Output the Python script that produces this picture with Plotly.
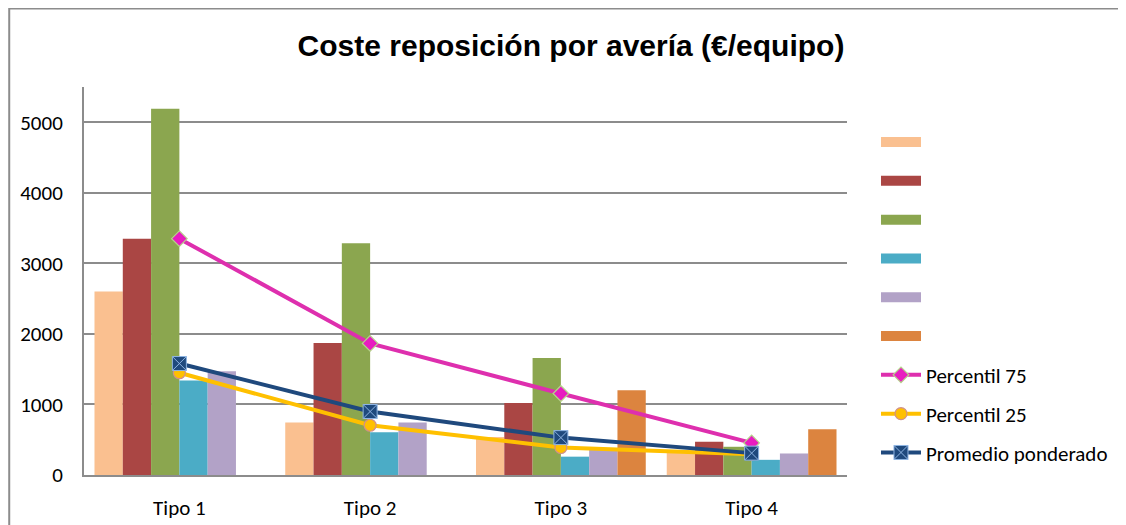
import plotly.graph_objects as go

# ── Data ──────────────────────────────────────────────────────────────────────
categories = ["Tipo 1", "Tipo 2", "Tipo 3", "Tipo 4"]

bar_s1 = [2600, 745, 540, 320]
bar_s2 = [3350, 1870, 1020, 470]
bar_s3 = [5190, 3285, 1660, 400]
bar_s4 = [1340, 605, 260, 215]
bar_s5 = [1470, 745, 365, 305]
bar_s6 = [None, None, 1200, 650]

percentil_75 = [3350, 1865, 1155, 455]
percentil_25 = [1450, 705, 390, 295]
promedio = [1580, 900, 530, 310]

y_ticks = [0, 1000, 2000, 3000, 4000, 5000]

FONT = "Carlito, Lato, sans-serif"

bar_series = [
    (bar_s1, "#FAC090"),
    (bar_s2, "#AA4644"),
    (bar_s3, "#8BA64F"),
    (bar_s4, "#4BACC6"),
    (bar_s5, "#B2A2C7"),
    (bar_s6, "#DC843F"),
]

fig = go.Figure()

# ── Bars ──────────────────────────────────────────────────────────────────────
for i, (vals, color) in enumerate(bar_series):
    fig.add_trace(go.Bar(
        x=categories,
        y=vals,
        name=" ",
        marker=dict(color=color, line=dict(width=0)),
        showlegend=False,
    ))

# legend-only swatches: wide rectangles like the Excel legend
for i, (vals, color) in enumerate(bar_series):
    fig.add_trace(go.Scatter(
        x=[categories[0]], y=[None],
        mode="lines",
        name=" ",
        line=dict(color=color, width=14),
        legendgroup=f"b{i}",
        hoverinfo="skip",
    ))

# ── Lines ─────────────────────────────────────────────────────────────────────
fig.add_trace(go.Scatter(
    x=categories, y=percentil_75, name="Percentil 75", mode="lines+markers",
    line=dict(color="#DE2FAE", width=4),
    marker=dict(symbol="diamond", size=12, color="#E81CC0",
                line=dict(color="#B5D48A", width=1.2)),
    legendgroup="l1",
))
fig.add_trace(go.Scatter(
    x=categories, y=percentil_25, name="Percentil 25", mode="lines+markers",
    line=dict(color="#FFC000", width=4),
    marker=dict(symbol="circle", size=12, color="#FFC000",
                line=dict(color="#D0908A", width=1.2)),
    legendgroup="l2",
))
fig.add_trace(go.Scatter(
    x=categories, y=promedio, name="Promedio ponderado", mode="lines+markers",
    line=dict(color="#1F497D", width=4),
    marker=dict(symbol="square-x", size=14, color="#1F497D",
                line=dict(color="#8EB4E3", width=1)),
    legendgroup="l3",
))

# ── Layout ────────────────────────────────────────────────────────────────────
# page body adds an 8px offset, so margins are shifted to compensate
fig.update_layout(
    width=1126,
    height=525,
    paper_bgcolor="white",
    plot_bgcolor="white",
    barmode="group",
    bargap=0.11,
    bargroupgap=0,
    margin=dict(l=74, r=287, t=79, b=51),
    title=dict(
        text="<b>Coste reposición por avería (€/equipo)</b>",
        x=0.5, xref="container", xanchor="center",
        y=0.9295, yref="container", yanchor="middle",
        font=dict(family="Liberation Sans, Arial, sans-serif", size=30, color="black"),
    ),
    font=dict(family=FONT, size=21, color="black"),
    legend=dict(
        x=1.038, xanchor="left",
        y=0.91, yanchor="top",
        font=dict(family=FONT, size=21, color="black"),
        tracegroupgap=8.5,
        itemwidth=40,
        bgcolor="rgba(0,0,0,0)",
    ),
    xaxis=dict(
        showline=True, linecolor="#8C8C8C", linewidth=2,
        showgrid=False,
        ticks="outside", ticklen=13, tickcolor="rgba(0,0,0,0)",
        tickfont=dict(family=FONT, size=21, color="black"),
    ),
    yaxis=dict(
        range=[0, 5500],
        tickvals=y_ticks,
        showline=True, linecolor="#8C8C8C", linewidth=2,
        showgrid=True, gridcolor="#8C8C8C", gridwidth=1.5,
        zeroline=False,
        ticks="outside", ticklen=15, tickcolor="rgba(0,0,0,0)",
        tickfont=dict(family=FONT, size=21, color="black"),
    ),
    shapes=[dict(
        type="rect", xref="paper", yref="paper",
        x0=-0.098, x1=1.6, y0=-0.5, y1=1.202,
        line=dict(color="#8C8C8C", width=2),
        layer="below",
    )],
)

fig.write_html("out.html")
